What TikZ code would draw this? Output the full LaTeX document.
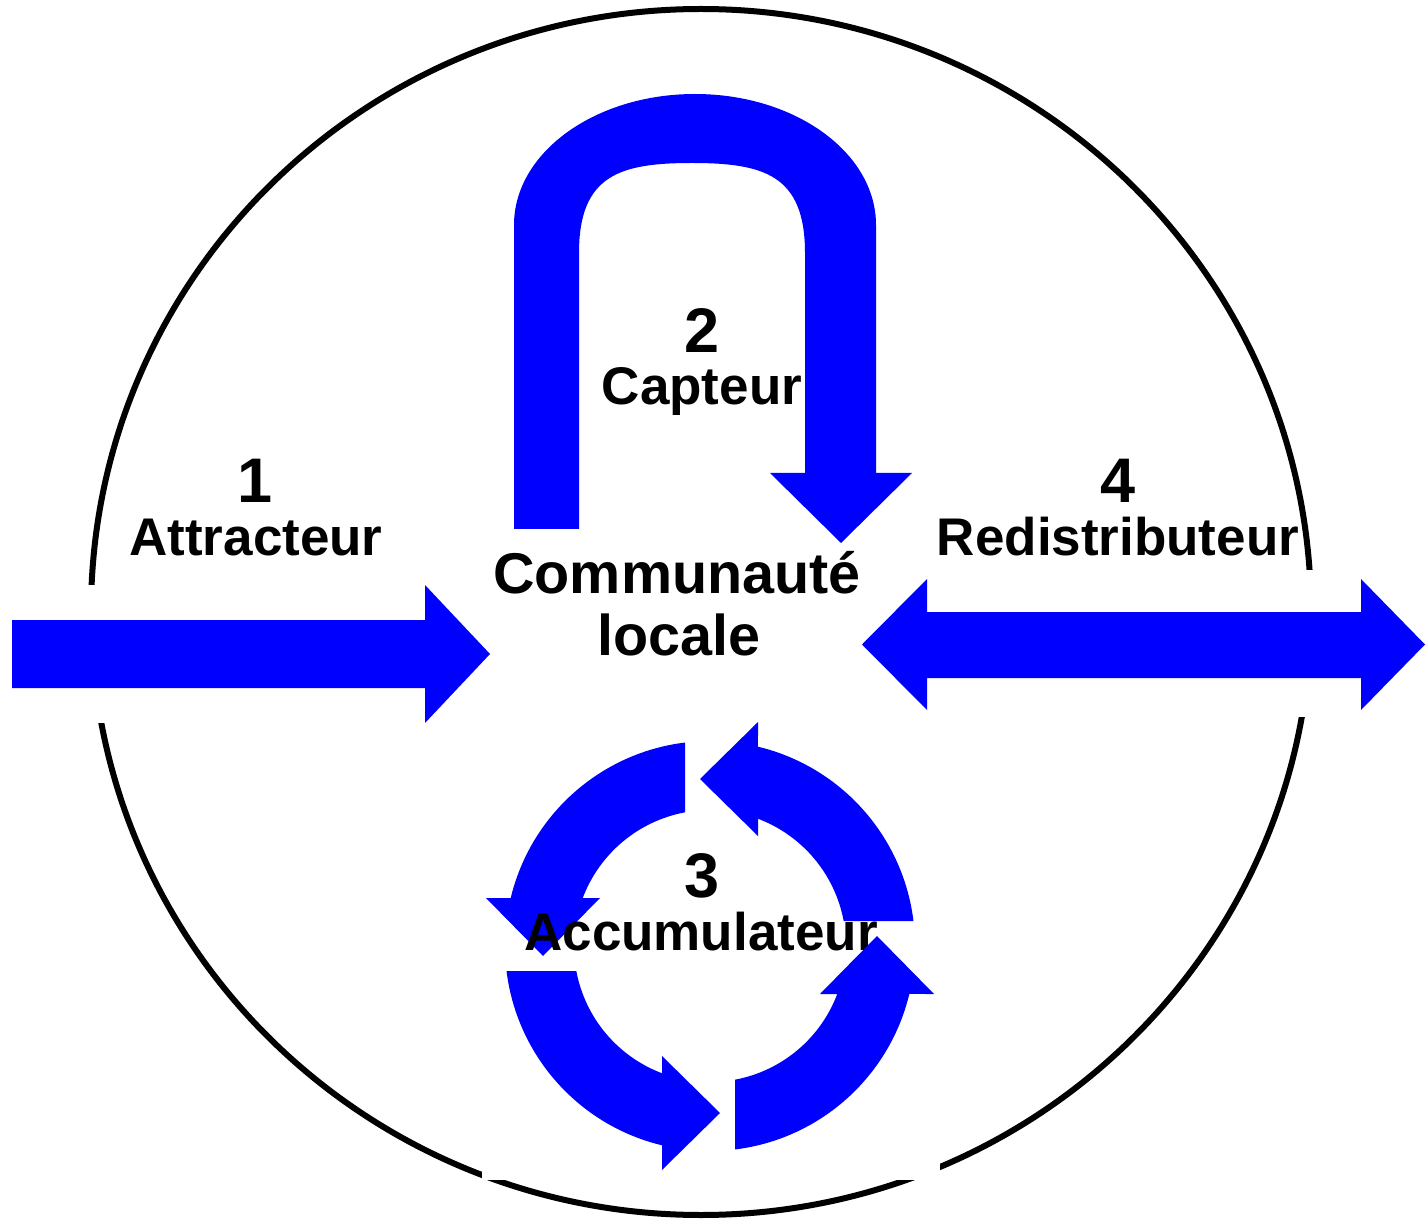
\documentclass[tikz,border=0pt]{standalone}
\usepackage{fontspec}
\setmainfont{Liberation Sans}
\definecolor{arrowblue}{RGB}{0,0,255}
\tikzset{
  blk/.style={fill=arrowblue},
  ring/.style={draw=black, line width=6pt},
  cover/.style={fill=white},
  lbl/.style={font=\fontsize{53}{53}\selectfont\bfseries, anchor=base, inner sep=0pt},
  biglbl/.style={font=\fontsize{57.5}{57.5}\selectfont\bfseries, anchor=base, inner sep=0pt},
  num/.style={font=\fontsize{63}{63}\selectfont\bfseries, anchor=base, inner sep=0pt}
}
\newcommand{\accarrow}[1]{%
  \begin{scope}[shift={(710,-946)},rotate=#1]
    \fill[blk] (203.47,25) arc[start angle=7.0, end angle=76.46, radius=205]
      -- (48,224) -- (-10,167) -- (48,110) -- (48,127.25)
      arc[start angle=69.33, end angle=10.59, radius=136] -- cycle;
  \end{scope}}
\begin{document}
\begin{tikzpicture}[x=1pt,y=1pt]
\useasboundingbox (0,0) rectangle (1428,-1222);
\fill[white] (0,0) rectangle (1428,-1222);

% outer circle
\draw[ring] (701,-612) ellipse [x radius=610, y radius=603];
% white boxes behind the arrows
\fill[cover] (12,-585) rectangle (490,-723);
\fill[cover] (862,-570) rectangle (1425,-717);
\fill[cover] (482,-720) rectangle (940,-1180);

% 1: attractor arrow
\fill[blk] (12,-620) -- (425,-620) -- (425,-585) -- (490,-654) -- (425,-723)
  -- (425,-688) -- (12,-688) -- cycle;

% 4: double arrow
\fill[blk] (862,-644.5) -- (927,-579) -- (927,-612) -- (1361,-612) -- (1361,-579)
  -- (1425,-644.5) -- (1361,-710) -- (1361,-678) -- (927,-678) -- (927,-710) -- cycle;

% 2: U-turn arrow
\fill[blk] (514,-529) -- (514,-225)
  arc[start angle=180, end angle=0, x radius=181, y radius=131]
  -- (876,-473) -- (912,-473) -- (841,-543) -- (770,-473) -- (805,-473) -- (805,-253)
  .. controls (805,-175) and (764,-163) .. (692,-163)
  .. controls (620,-163) and (579,-175) .. (579,-253)
  -- (579,-529) -- cycle;

% 3: cycle arrows
\accarrow{0}
\accarrow{90}
\accarrow{180}

% texts
\node[num] (n1) at (255,-503) {1};
\node[lbl] (t1) at (256,-555) {Attracteur};
\node[num] (n2) at (702,-353) {2};
\node[lbl] (t2) at (702,-405) {Capteur};
\node[num] (n3) at (702,-897) {3};
\node[lbl] (t3) at (701,-950) {Accumulateur};
\node[num] (n4) at (1118,-503) {4};
\node[lbl] (t4) at (1118,-555) {Redistributeur};
\node[biglbl] (c1) at (677,-593) {Communauté};
\node[biglbl] (c2) at (679,-655) {locale};

\accarrow{270}
\end{tikzpicture}
\end{document}
